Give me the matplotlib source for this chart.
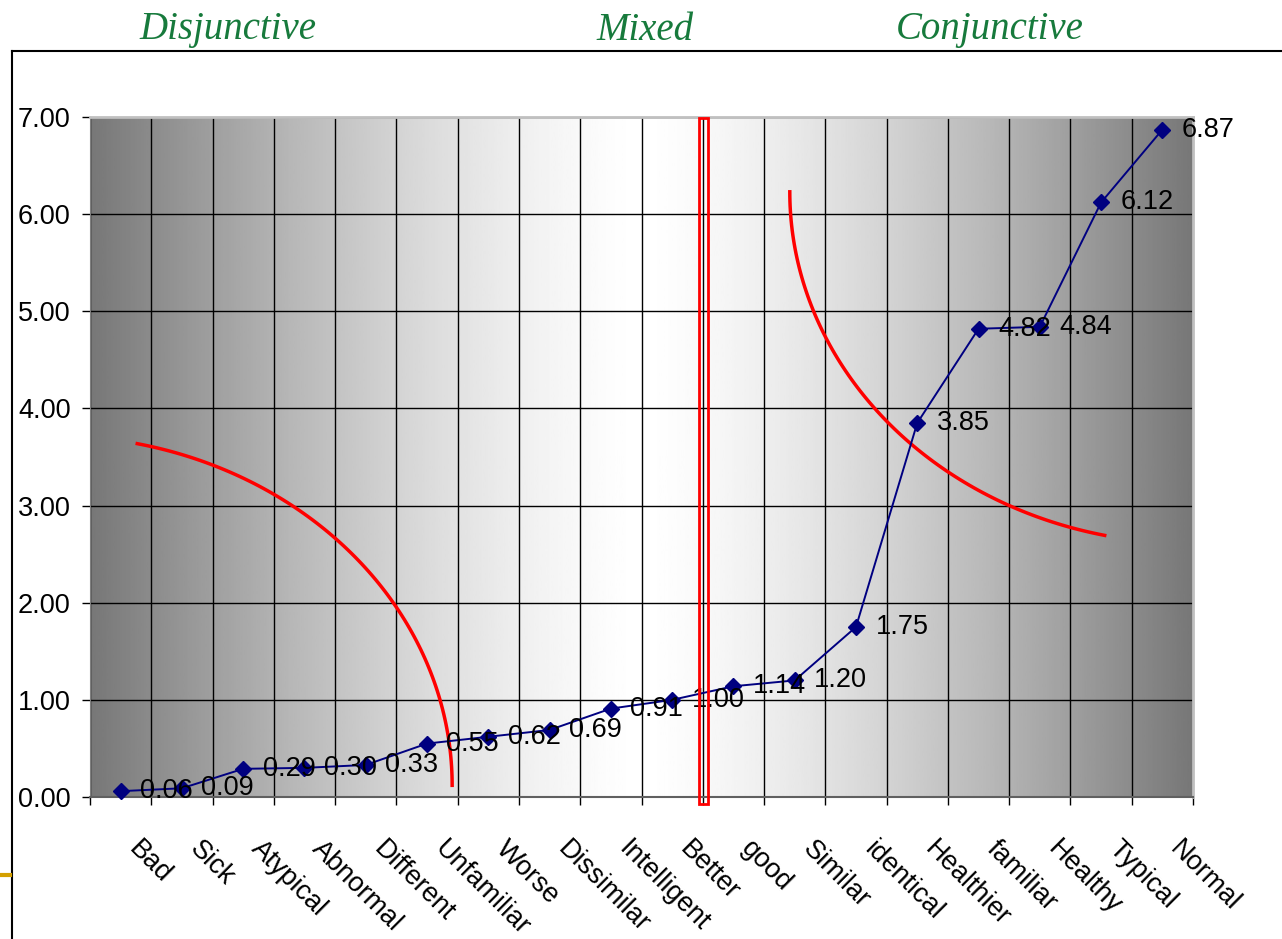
import matplotlib
matplotlib.use('Agg')
import matplotlib.pyplot as plt
import matplotlib.transforms as mtransforms
from matplotlib.lines import Line2D
from matplotlib.patches import Rectangle
import numpy as np

plt.rcParams['font.family'] = ['Liberation Sans', 'DejaVu Sans']

words = ["Bad", "Sick", "Atypical", "Abnormal", "Different", "Unfamiliar",
         "Worse", "Dissimilar", "Intelligent", "Better", "good", "Similar",
         "identical", "Healthier", "familiar", "Healthy", "Typical", "Normal"]
scores = [0.06, 0.09, 0.29, 0.30, 0.33, 0.55, 0.62, 0.69, 0.91, 1.00,
          1.14, 1.20, 1.75, 3.85, 4.82, 4.84, 6.12, 6.87]
group_titles = ["Disjunctive", "Mixed", "Conjunctive"]
group_x = [228, 645, 990]  # pixel centres across the top

W, H = 1282, 939
fig = plt.figure(figsize=(W / 100, H / 100), dpi=100)
ax = fig.add_axes([90 / W, 142 / H, 1103 / W, 680 / H])

n = len(words)
x = np.arange(n)

# grey-white-grey background shading
u = np.linspace(-1, 1, 600)
shade = 255 - 136 * np.abs(u) ** 1.4
ax.imshow(shade[np.newaxis, :], extent=(-0.5, n - 0.5, 0, 7), aspect='auto',
          cmap='gray', vmin=0, vmax=255, zorder=0)

ax.set_xlim(-0.5, n - 0.5)
ax.set_ylim(0, 7)

# grid on category boundaries
ax.set_xticks(np.arange(-0.5, n), minor=True)
ax.set_xticks(x)
ax.set_xticklabels(words, fontsize=19.5, rotation=-45, ha='left',
                   va='top', rotation_mode='anchor')
ax.set_yticks(np.arange(0, 8))
ax.set_yticklabels([f"{v:.2f}" for v in range(8)], fontsize=19.5)
ax.grid(which='minor', axis='x', color='black', lw=1.0, zorder=1)
ax.grid(which='major', axis='y', color='black', lw=1.0, zorder=1)
ax.tick_params(axis='x', which='major', length=0, pad=28)
ax.tick_params(axis='x', which='minor', length=6, width=1, color='black')
ax.tick_params(axis='y', length=6, width=1, color='black', pad=8)

offset = mtransforms.ScaledTranslation(21 / 100, 0, fig.dpi_scale_trans)
for lab in ax.get_xticklabels():
    lab.set_transform(lab.get_transform() + offset)

ax.spines['left'].set_color('#808080')
ax.spines['bottom'].set_color('#606060')
ax.spines['bottom'].set_linewidth(1.5)
for s in ('top', 'right'):
    ax.spines[s].set_color('#c0c0c0')
    ax.spines[s].set_linewidth(2)

# series
ax.plot(x, scores, color='#000080', lw=1.4, marker='D', markersize=8,
        zorder=4, clip_on=False)
for xi, v in zip(x, scores):
    ax.annotate(f"{v:.2f}", (xi, v), xytext=(14, 0), textcoords='offset points',
                ha='left', va='center', fontsize=19.5, color='black',
                zorder=5, annotation_clip=False)

# red arcs marking the two ends
t = np.radians(np.linspace(0, 77.7, 100))
ax.plot(-1.12 + 6.53 * np.cos(t), 0.12 + 3.60 * np.sin(t),
        color='red', lw=2.5, zorder=3)
t = np.radians(np.linspace(180, 257.7, 100))
ax.plot(17.45 + 6.53 * np.cos(t), 6.23 + 3.62 * np.sin(t),
        color='red', lw=2.5, zorder=3)

# red box at the neutral point
ax.add_patch(Rectangle((9.44, -0.07), 0.14, 7.06, fill=False,
                       edgecolor='red', lw=2, zorder=6, clip_on=False))

# group headings
for name, px in zip(group_titles, group_x):
    fig.text(px / W, 1 - 30 / H, name, ha='center', va='center',
             family='Liberation Serif', style='italic', fontsize=28,
             color='#177a3c')

# outer frame and slide accent
fig.add_artist(Line2D([12 / W, 12 / W], [0, 1 - 51 / H], color='black', lw=1.5))
fig.add_artist(Line2D([12 / W, 1], [1 - 51 / H, 1 - 51 / H], color='black', lw=1.5))
fig.add_artist(Line2D([0, 10 / W], [1 - 875 / H, 1 - 875 / H], color='#d4a000', lw=3))

fig.savefig("out.png", dpi=100)
